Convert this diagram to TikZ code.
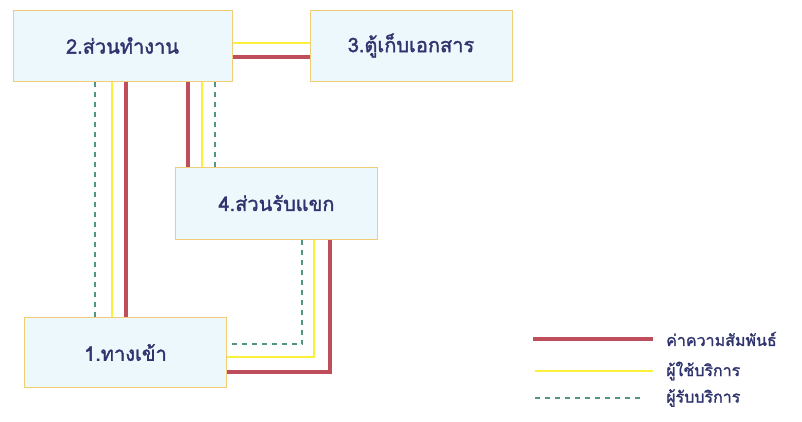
\documentclass[tikz,border=0pt]{standalone}
\usepackage{fontspec}
\newfontfamily\thaifont[Script=Thai, FakeBold=1.6]{Loma}
\usepackage{tikz}
\usetikzlibrary{positioning, calc}

\definecolor{boxfill}{RGB}{236,248,252}
\definecolor{boxline}{RGB}{242,205,120}
\definecolor{relred}{RGB}{190,78,92}
\definecolor{useryel}{RGB}{250,240,60}
\definecolor{recvgreen}{RGB}{80,150,130}
\definecolor{labelnavy}{RGB}{48,52,110}

\begin{document}
\begin{tikzpicture}[
    x=1pt, y=-1pt,
    room/.style={rectangle, draw=boxline, line width=1pt, fill=boxfill,
                 minimum height=71pt, inner sep=0pt,
                 font=\thaifont\fontsize{20}{22}\selectfont, text=labelnavy},
    rel/.style={draw=relred, line width=4pt},
    user/.style={draw=useryel, line width=1.5pt},
    recv/.style={draw=recvgreen, line width=1.3pt, dash pattern=on 5pt off 5pt},
    legtext/.style={anchor=west, inner sep=0pt,
                    font=\thaifont\fontsize{16}{18}\selectfont, text=labelnavy},
]
\useasboundingbox (0,0) rectangle (802,421);
\node[room, minimum width=219pt] (work) at (122.5,45.5) {2.ส่วนทำงาน};
\node[room, minimum width=202pt] (files) at (411,45.5) {3.ตู้เก็บเอกสาร};
\node[room, minimum width=202pt, minimum height=72pt] (guest) at (276.5,203) {4.ส่วนรับแขก};
\node[room, minimum width=202pt, minimum height=70pt] (entry) at (125.5,352.5) {1.ทางเข้า};
% work -- files
\draw[user] (work.east |- 0,43) -- (files.west |- 0,43);
\draw[rel] (work.east |- 0,57) -- (files.west |- 0,57);
% work -- entry
\draw[recv] (work.south -| 95,0) -- (entry.north -| 95,0);
\draw[user] (work.south -| 112,0) -- (entry.north -| 112,0);
\draw[rel] (work.south -| 126,0) -- (entry.north -| 126,0);
% work -- guest
\draw[rel] (work.south -| 188,0) -- (guest.north -| 188,0);
\draw[user] (work.south -| 202,0) -- (guest.north -| 202,0);
\draw[recv] (work.south -| 215,0) -- (guest.north -| 215,0);
% guest -- entry
\draw[recv] (guest.south -| 302,0) |- (entry.east |- 0,344);
\draw[user] (guest.south -| 314,0) |- (entry.east |- 0,357);
\draw[rel] (guest.south -| 330,0) |- (entry.east |- 0,372);
% legend
\coordinate (relA) at (533,339);
\coordinate (relB) at (653,339);
\coordinate (userA) at (535,371);
\coordinate (userB) at (653,371);
\coordinate (recvA) at (535,398);
\coordinate (recvB) at (643,398);
\draw[rel] (relA) -- (relB);
\draw[user] (userA) -- (userB);
\draw[recv] (recvA) -- (recvB);
\node[legtext] (relT) at (666,339) {ค่าความสัมพันธ์};
\node[legtext] (userT) at (666,371) {ผู้ใช้บริการ};
\node[legtext] (recvT) at (666,398) {ผู้รับบริการ};
\end{tikzpicture}
\end{document}
